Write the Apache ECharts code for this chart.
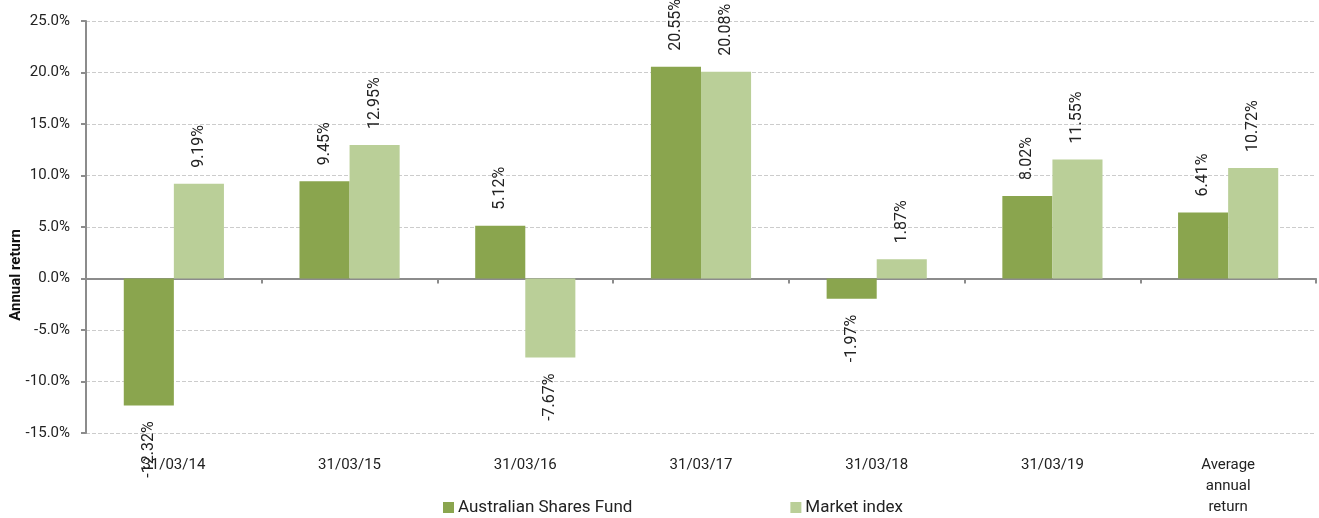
<!DOCTYPE html>
<html>
<head>
<meta charset="utf-8">
<script src="https://cdn.jsdelivr.net/npm/echarts@6/dist/echarts.min.js"></script>
<style>
  html, body { margin: 0; padding: 0; background: #fff; }
  #chart { width: 1319px; height: 518px; }
</style>
</head>
<body>
<div id="chart"></div>
<script>
const categories = ['31/03/14', '31/03/15', '31/03/16', '31/03/17', '31/03/18', '31/03/19', 'Average\nannual\nreturn'];
const fundReturns = [-12.32, 9.45, 5.12, 20.55, -1.97, 8.02, 6.41];
const marketReturns = [9.19, 12.95, -7.67, 20.08, 1.87, 11.55, 10.72];
const seriesNames = ['Australian Shares Fund', 'Market index'];
const yAxisTitle = 'Annual return';

const chart = echarts.init(document.getElementById('chart'));

// rotated labels grow away from the bar: up for positive, down for negative
const withLabels = (values) => values.map(v => ({
  value: v,
  label: { align: v < 0 ? 'right' : 'left' },
}));

const barLabel = {
  show: true,
  position: 'outside',
  rotate: 90,
  verticalAlign: 'middle',
  distance: 16,
  fontFamily: 'Roboto',
  fontSize: 16,
  color: '#222',
  formatter: (p) => p.value.toFixed(2) + '%',
};

const option = {
  animation: false,
  textStyle: { fontFamily: 'Roboto' },
  grid: { left: 86, right: 3, top: 21, bottom: 85, outerBoundsMode: 'none' },
  // axis title sits level with the zero line, not mid-axis
  graphic: [
    {
      type: 'text',
      x: 16,
      y: 275,
      rotation: Math.PI / 2,
      style: {
        text: yAxisTitle,
        fontFamily: 'Roboto',
        fontSize: 15,
        fontWeight: 'bold',
        fill: '#111',
        align: 'center',
        verticalAlign: 'middle',
      },
    },
  ],
  legend: {
    data: seriesNames,
    left: 438,
    top: 494,
    icon: 'rect',
    itemWidth: 11,
    itemHeight: 11,
    itemGap: 158,
    textStyle: { fontFamily: 'Roboto', fontSize: 17, color: '#222', padding: [0, 0, 0, -1] },
  },
  xAxis: [
    {
      type: 'category',
      data: categories,
      position: 'bottom',
      axisLine: { onZero: true, lineStyle: { color: '#8c8c8c', width: 2 } },
      axisTick: { show: true, length: 5, lineStyle: { color: '#8c8c8c', width: 2 } },
      axisLabel: { show: false },
    },
    {
      type: 'category',
      data: categories,
      position: 'bottom',
      axisLine: { show: false, onZero: false },
      axisTick: { show: false },
      axisLabel: {
        margin: 22,
        fontFamily: 'Roboto',
        fontSize: 15,
        lineHeight: 21,
        color: '#222',
      },
    },
  ],
  yAxis: {
    type: 'value',
    min: -15,
    max: 25,
    interval: 5,
    axisLine: { show: true, lineStyle: { color: '#8c8c8c', width: 2 } },
    axisTick: { show: true, length: 5, lineStyle: { color: '#8c8c8c', width: 2 } },
    axisLabel: {
      margin: 16,
      fontFamily: 'Roboto',
      fontSize: 15,
      color: '#222',
      formatter: (v) => v.toFixed(1) + '%',
    },
    splitLine: { show: true, lineStyle: { color: '#cccccc', type: 'dashed', width: 1 } },
  },
  series: [
    {
      name: seriesNames[0],
      type: 'bar',
      data: withLabels(fundReturns),
      barGap: '0%',
      barCategoryGap: '43%',
      itemStyle: { color: '#8aa54e' },
      label: barLabel,
    },
    {
      name: seriesNames[1],
      type: 'bar',
      data: withLabels(marketReturns),
      itemStyle: { color: '#bacf98' },
      label: barLabel,
    },
  ],
};

chart.setOption(option);
</script>
</body>
</html>
